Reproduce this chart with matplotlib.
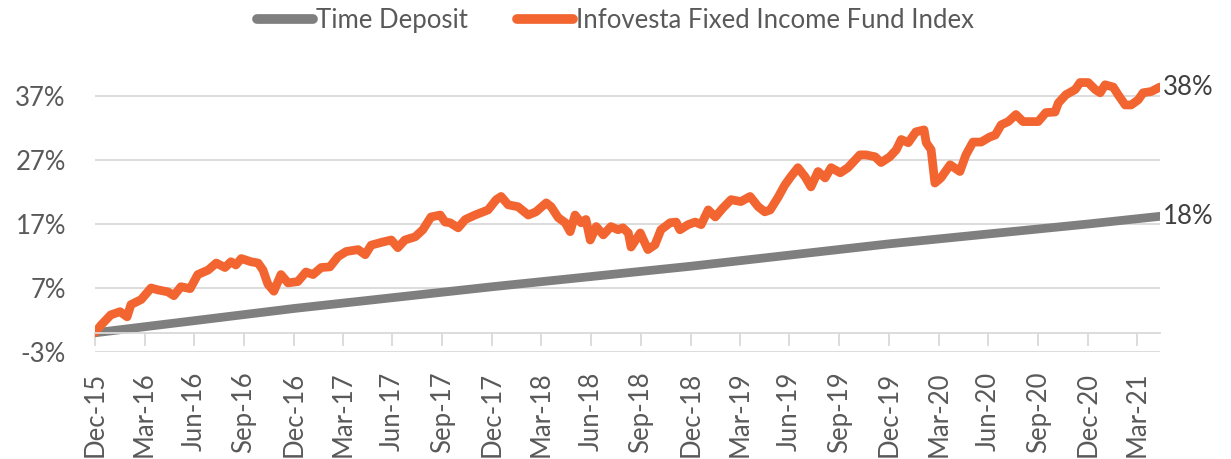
import numpy as np
import pandas as pd
import matplotlib
matplotlib.use("Agg")
import matplotlib.pyplot as plt
import matplotlib.dates as mdates

FONT = "Lato"
FS = 18.5

# Infovesta Fixed Income Fund Index, cumulative return (%)
fund_dates = [
    "2015-12-31", "2016-01-11", "2016-01-29", "2016-02-15", "2016-02-28", "2016-03-06",
    "2016-03-25", "2016-04-12", "2016-04-25", "2016-05-13", "2016-05-24", "2016-06-06",
    "2016-06-23", "2016-07-07", "2016-07-26", "2016-08-10", "2016-08-26", "2016-09-06",
    "2016-09-15", "2016-09-25", "2016-10-13", "2016-10-26", "2016-11-04", "2016-11-13",
    "2016-11-24", "2016-12-07", "2016-12-20", "2017-01-07", "2017-01-22", "2017-02-04",
    "2017-02-19", "2017-03-07", "2017-03-22", "2017-04-06", "2017-04-28", "2017-05-11",
    "2017-05-22", "2017-06-13", "2017-06-28", "2017-07-10", "2017-07-23", "2017-08-11",
    "2017-08-25", "2017-09-09", "2017-09-26", "2017-10-05", "2017-10-14", "2017-10-29",
    "2017-11-11", "2017-11-29", "2017-12-23", "2018-01-07", "2018-01-16", "2018-01-29",
    "2018-02-16", "2018-03-07", "2018-03-21", "2018-04-09", "2018-04-18", "2018-05-01",
    "2018-05-14", "2018-05-23", "2018-06-01", "2018-06-12", "2018-06-21", "2018-06-29",
    "2018-07-10", "2018-07-23", "2018-08-06", "2018-08-19", "2018-08-28", "2018-09-07",
    "2018-09-12", "2018-09-29", "2018-10-13", "2018-10-26", "2018-11-06", "2018-11-23",
    "2018-12-04", "2018-12-11", "2018-12-26", "2019-01-08", "2019-01-19", "2019-02-01",
    "2019-02-14", "2019-02-28", "2019-03-15", "2019-04-02", "2019-04-19", "2019-05-04",
    "2019-05-16", "2019-05-26", "2019-06-09", "2019-06-22", "2019-07-03", "2019-07-16",
    "2019-07-29", "2019-08-09", "2019-08-22", "2019-09-04", "2019-09-15", "2019-10-02",
    "2019-10-16", "2019-11-07", "2019-11-18", "2019-12-05", "2019-12-16", "2020-01-01",
    "2020-01-13", "2020-01-22", "2020-02-04", "2020-02-18", "2020-03-04", "2020-03-08",
    "2020-03-17", "2020-03-24", "2020-04-04", "2020-04-21", "2020-05-09", "2020-05-20",
    "2020-06-02", "2020-06-17", "2020-07-03", "2020-07-13", "2020-07-24", "2020-08-06",
    "2020-08-20", "2020-09-02", "2020-09-30", "2020-10-14", "2020-10-31", "2020-11-06",
    "2020-11-20", "2020-12-07", "2020-12-16", "2020-12-31", "2021-01-13", "2021-01-22",
    "2021-01-31", "2021-02-15", "2021-02-24", "2021-03-09", "2021-03-20", "2021-04-02",
    "2021-04-11", "2021-04-26", "2021-05-12",
]
fund_values = [
    0.0, 1.2, 2.8, 3.3, 2.5, 4.4,
    5.2, 7.0, 6.7, 6.4, 5.8, 7.2,
    6.9, 9.1, 9.8, 10.9, 10.2, 11.1,
    10.6, 11.6, 11.1, 10.9, 9.8, 7.6,
    6.5, 9.1, 7.8, 8.0, 9.5, 9.1,
    10.2, 10.3, 11.9, 12.7, 13.0, 12.2,
    13.7, 14.2, 14.5, 13.3, 14.5, 15.0,
    16.1, 18.1, 18.4, 17.3, 17.2, 16.4,
    17.7, 18.4, 19.2, 20.8, 21.3, 20.0,
    19.7, 18.4, 18.9, 20.3, 19.7, 18.0,
    17.2, 15.8, 18.4, 17.2, 17.7, 14.5,
    16.6, 15.3, 16.6, 16.1, 16.4, 15.6,
    13.4, 15.6, 13.0, 13.75, 16.1, 17.2,
    17.3, 16.1, 16.9, 17.3, 16.9, 19.2,
    18.1, 19.5, 20.8, 20.5, 21.3, 19.7,
    18.9, 19.2, 21.1, 23.1, 24.4, 25.8,
    24.4, 22.8, 25.2, 24.2, 25.8, 25.0,
    25.8, 27.8, 27.8, 27.5, 26.6, 27.5,
    28.6, 30.2, 29.7, 31.4, 31.7, 29.7,
    28.6, 23.4, 24.2, 26.25, 25.2, 27.8,
    29.8, 29.8, 30.6, 30.9, 32.5, 33.0,
    34.1, 33.0, 33.0, 34.4, 34.5, 35.9,
    37.2, 38.0, 39.1, 39.1, 38.0, 37.5,
    38.75, 38.4, 37.2, 35.6, 35.6, 36.4,
    37.5, 37.7, 38.4,
]

# Time deposit, cumulative return (%)
td_dates = ["2015-12-31", "2016-12-31", "2017-12-31", "2018-12-31",
            "2019-12-31", "2020-12-31", "2021-05-12"]
td_values = [0.0, 3.8, 7.2, 10.4, 13.9, 17.0, 18.2]

yticks = [-3, 7, 17, 27, 37]

fd = pd.to_datetime(fund_dates)
tdd = pd.to_datetime(td_dates)

fig = plt.figure(figsize=(12.31, 4.59), dpi=100)
ax = fig.add_axes([0.0772, 0.2331, 0.9423 - 0.0772, 0.8606 - 0.2331])

grey = "#7f7f7f"
orange = "#f26531"

ax.plot(tdd, td_values, color=grey, lw=6.3, solid_capstyle="round", label="Time Deposit")
ax.plot(fd, fund_values, color=orange, lw=6.3, solid_capstyle="round",
        solid_joinstyle="round", label="Infovesta Fixed Income Fund Index")

ax.set_xlim(fd[0], fd[-1])
ax.set_ylim(-3, 42)
ax.set_yticks(yticks)
ax.set_yticklabels([f"{t}%" for t in yticks])
ax.grid(axis="y", color="#d9d9d9", lw=1.3)
ax.set_axisbelow(True)

for s in ["top", "right", "left"]:
    ax.spines[s].set_visible(False)
ax.spines["bottom"].set_position(("data", 0))
ax.spines["bottom"].set_color("#d9d9d9")
ax.spines["bottom"].set_linewidth(1.3)

xt = pd.date_range("2015-12-31", "2021-03-31", freq="3ME")
ax.set_xticks(xt)
ax.set_xticklabels([d.strftime("%b-%y") for d in xt], rotation=90)
ax.tick_params(axis="x", length=9, width=1.3, color="#d9d9d9", pad=19,
               labelsize=FS, labelcolor="#595959")
ax.tick_params(axis="y", length=0, pad=21, labelsize=FS, labelcolor="#595959")
for lab in ax.get_xticklabels() + ax.get_yticklabels():
    lab.set_fontfamily(FONT)
for lab in ax.get_xticklabels():
    lab.set_verticalalignment("top")

ax.annotate(f"{fund_values[-1]:.0f}%", (fd[-1], fund_values[-1]), xytext=(2, 0),
            textcoords="offset points", va="center", ha="left",
            fontsize=FS, family=FONT, color="#404040", annotation_clip=False)
ax.annotate(f"{td_values[-1]:.0f}%", (tdd[-1], td_values[-1]), xytext=(2, 0),
            textcoords="offset points", va="center", ha="left",
            fontsize=FS, family=FONT, color="#404040", annotation_clip=False)

leg = fig.legend(loc="center", bbox_to_anchor=(0.5, 0.955), ncol=2, frameon=False,
                 handlelength=2.2, handletextpad=0.12, columnspacing=1.9,
                 prop={"family": FONT, "size": FS})
for t in leg.get_texts():
    t.set_color("#595959")
for h in leg.get_lines():
    h.set_linewidth(7)
    h.set_solid_capstyle("round")

fig.savefig("out.png", dpi=100)
